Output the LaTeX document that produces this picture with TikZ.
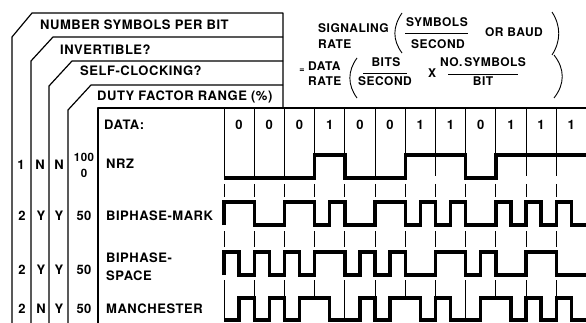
\documentclass[tikz,border=0pt]{standalone}
\usepackage{fontspec}
\setmainfont{TeX Gyre Heros}[LetterSpace=4]
\usetikzlibrary{positioning}
\tikzset{
  tab/.style={line width=1.2pt, line join=round},
  gridln/.style={line width=0.7pt},
  wave/.style={line width=3.4pt, line join=miter},
  fbar/.style={line width=0.9pt},
  lbl/.style={font=\fontsize{13}{13}\selectfont\bfseries, inner sep=0pt, anchor=base west},
  cell/.style={font=\fontsize{13}{13}\selectfont\bfseries, inner sep=0pt, anchor=base},
  eqn/.style={font=\fontsize{12}{12}\selectfont\bfseries, inner sep=0pt, anchor=base},
}
\begin{document}
\begin{tikzpicture}[x=1pt, y=-1pt]
  \useasboundingbox (0,0) rectangle (586,323);
  % heading tabs
  \draw[tab] (12,323) -- (12,37) -- (32,13) -- (283,13) -- (283,108);
  \draw[tab] (31,323) -- (31,61) -- (53,37) -- (283,37);
  \draw[tab] (49,323) -- (49,86) -- (72,61) -- (283,61);
  \draw[tab] (68,323) -- (68,110) -- (91,85) -- (283,85);
  \draw[tab] (98,323) -- (98,108) -- (586,108);
  \node[lbl] (hNum)  at (40,30)  {NUMBER SYMBOLS PER BIT};
  \node[lbl] (hInv)  at (60,55)  {INVERTIBLE?};
  \node[lbl] (hClk)  at (80,76)  {SELF-CLOCKING?};
  \node[lbl] (hDuty) at (97,101) {DUTY FACTOR RANGE (\%)};
  % signaling rate formula
  \node[eqn, anchor=base west] (sigA) at (318,33) {SIGNALING};
  \node[eqn, anchor=base west] (sigB) at (318,49) {RATE};
  \draw[fbar] (402,13) .. controls (392.5,27) and (392.5,40) .. (402,53);
  \node[eqn] (symN) at (437,27) {SYMBOLS};
  \draw[fbar] (405,33) -- (468,33);
  \node[eqn] (symD) at (438,49) {SECOND};
  \node[eqn] (baud) at (514,37) {OR BAUD};
  \draw[fbar] (552,12) .. controls (561,26) and (561,41) .. (552,55);
  \node[eqn, font=\fontsize{9}{9}\selectfont\bfseries] (eqs) at (302,73) {=};
  \node[eqn, anchor=base west] (datA) at (308,71) {DATA};
  \node[eqn, anchor=base west] (datB) at (308,86) {RATE};
  \draw[fbar] (357,58) .. controls (347.5,71) and (347.5,85) .. (357,98);
  \node[eqn] (bitN) at (386,67) {BITS};
  \draw[fbar] (363,73) -- (407,73);
  \node[eqn] (bitD) at (385,86) {SECOND};
  \node[eqn] (tms) at (432,78) {X};
  \node[eqn] (nsN) at (483,67) {NO.\,SYMBOLS};
  \draw[fbar] (448,74) -- (518,74);
  \node[eqn] (nsD) at (483,86) {BIT};
  \draw[fbar] (554,55) .. controls (565,69) and (565,84) .. (554,98);
  % row labels
  \node[lbl] (lData) at (104,130) {DATA:};
  \node[lbl] (lNrz)  at (106,169) {NRZ};
  \node[lbl] (lBpm)  at (106,220) {BIPHASE-MARK};
  \node[lbl] (lBps)  at (106,262) {BIPHASE-};
  \node[lbl] (lBps2) at (106,280) {SPACE};
  \node[lbl] (lMan)  at (106,313) {MANCHESTER};
  % table entries
  \node[cell] (n1) at (21,170) {1};
  \node[cell] (i1) at (40,170) {N};
  \node[cell] (c1) at (59,170) {N};
  \node[cell, font=\fontsize{11.5}{11.5}\selectfont\bfseries] (dA) at (84,162) {100};
  \node[cell, font=\fontsize{11.5}{11.5}\selectfont\bfseries] (dB) at (84,178) {0};
  \foreach \y/\a/\b/\c/\d [count=\r from 2] in {221/2/Y/Y/50, 274/2/Y/Y/50, 313/2/N/Y/50} {
    \node[cell] (n\r) at (22,\y) {\a};
    \node[cell] (i\r) at (41,\y) {\b};
    \node[cell] (c\r) at (59,\y) {\c};
    \node[cell] (d\r) at (84,\y) {\d};
  }
  \begin{scope}[xshift=224pt, x=30.2pt]
    % data bits
    \foreach \b [count=\i from 0] in {0,0,0,1,0,0,1,1,0,1,1,1}
      \node[cell] (bit\i) at (\i+0.5,130) {\b};
    % bit cell boundaries
    \foreach \k in {0,...,11} {
      \draw[gridln] (\k,109) -- (\k,176);
      \draw[gridln] (\k,184) -- (\k,197);
      \draw[gridln] (\k,231) -- (\k,247);
      \draw[gridln] (\k,280) -- (\k,296);
    }
    \foreach \k in {0,4,8}
      \draw[gridln] (\k,296) -- (\k,320);
    % NRZ
    \draw[wave] (0,178) -| (3,155) -| (4,178) -| (6,155) -| (8,178) -| (9,155) -- (12,155);
    % biphase-mark
    \draw[wave] (0,225) -- (0,202) -| (1,225) -| (2,202) -| (3,225) -| (3.5,202) -| (4,225)
      -| (5,202) -| (6,225) -| (6.5,202) -| (7,225) -| (7.5,202) -| (8,225) -| (9,202)
      -| (9.5,225) -| (10,202) -| (10.5,225) -| (11,202) -| (11.5,225) -- (12,225);
    % biphase-space
    \draw[wave] (0,275) -- (0,252) -| (0.5,275) -| (1,252) -| (1.5,275) -| (2,252) -| (2.5,275)
      -| (3,252) -| (4,275) -| (4.5,252) -| (5,275) -| (5.5,252) -| (6,275) -| (7,252)
      -| (8,275) -| (8.5,252) -| (9,275) -| (10,252) -| (11,275) -- (12,275);
    % manchester
    \draw[wave] (0,320) -| (0.5,298) -| (1,320) -| (1.5,298) -| (2,320) -| (2.5,298) -| (3.5,320)
      -| (4.5,298) -| (5,320) -| (5.5,298) -| (6.5,320) -| (7,298) -| (7.5,320) -| (8.5,298)
      -| (9.5,320) -| (10,298) -| (10.5,320) -| (11,298) -| (11.5,320) -- (12,320);
  \end{scope}
\end{tikzpicture}
\end{document}
